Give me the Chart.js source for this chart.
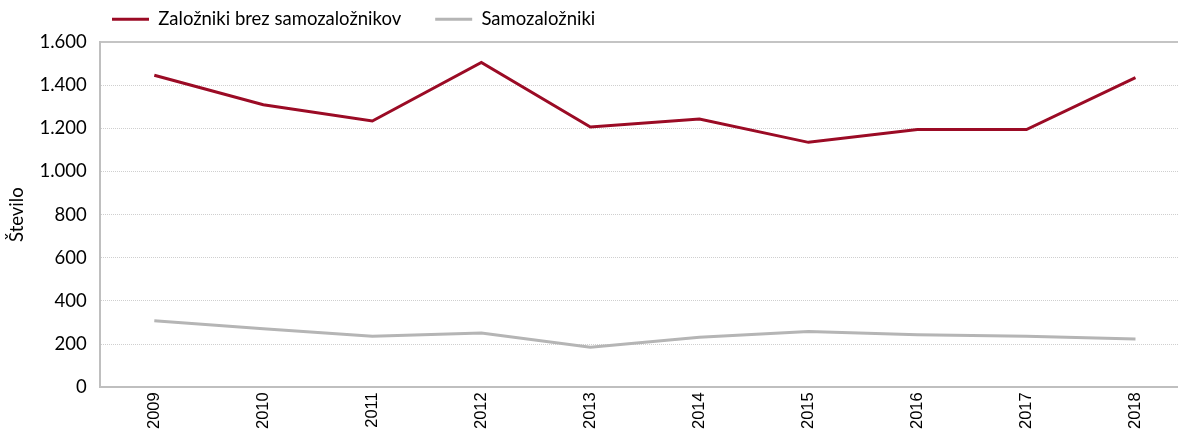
<!DOCTYPE html>
<html>
<head>
<meta charset="utf-8">
<script src="https://cdn.jsdelivr.net/npm/chart.js@4"></script>
<style>
  html, body { margin: 0; padding: 0; background: #fff; overflow: hidden; }
  #wrap { width: 1178px; height: 434px; overflow: hidden; }
</style>
</head>
<body>
<div id="wrap"><canvas id="publishersChart" width="1190" height="434"></canvas></div>
<script>
const years = ['2009', '2010', '2011', '2012', '2013', '2014', '2015', '2016', '2017', '2018'];
const publishers = [1446, 1309, 1234, 1505, 1206, 1243, 1135, 1195, 1194, 1435];
const selfPublishers = [308, 271, 237, 252, 186, 232, 258, 243, 237, 224];

const fmt = v => String(v).replace(/\B(?=(\d{3})+(?!\d))/g, '.');

// move legend up and to the left like in the original
const legendShift = {
    id: 'legendShift',
    afterLayout(chart) {
        chart.legend.left += 70;
        chart.legend.top -= 24;
    }
};

const ctx = document.getElementById('publishersChart').getContext('2d');
const chart = new Chart(ctx, {
    type: 'line',
    data: {
        labels: years,
        datasets: [{
            label: 'Založniki brez samozaložnikov',
            data: publishers,
            borderColor: '#9b0b25',
            backgroundColor: '#9b0b25',
            borderWidth: 3,
            pointRadius: 0,
            tension: 0
        }, {
            label: 'Samozaložniki',
            data: selfPublishers,
            borderColor: '#b5b5b5',
            backgroundColor: '#b5b5b5',
            borderWidth: 3,
            pointRadius: 0,
            tension: 0
        }]
    },
    options: {
        responsive: false,
        animation: false,
        layout: { padding: { left: 8, right: 0, top: 0, bottom: 0 } },
        plugins: {
            legend: {
                position: 'top',
                align: 'start',
                maxHeight: 42,
                labels: {
                    usePointStyle: true,
                    pointStyle: 'line',
                    pointStyleWidth: 37,
                    padding: 34,
                    color: '#000',
                    font: { family: 'Lato', size: 18.5 }
                }
            },
            tooltip: { enabled: false }
        },
        scales: {
            x: {
                offset: true,
                grid: { display: false, drawTicks: false },
                border: { color: '#bfbfbf', width: 2 },
                ticks: {
                    minRotation: 90,
                    maxRotation: 90,
                    padding: 5,
                    color: '#000',
                    font: { family: 'Liberation Sans', size: 16.5 }
                }
            },
            y: {
                min: 0,
                max: 1600,
                ticks: {
                    stepSize: 200,
                    padding: 13,
                    color: '#000',
                    font: { family: 'Lato', size: 18.5 },
                    callback: v => fmt(v)
                },
                grid: {
                    drawTicks: false,
                    color: c => c.tick.value === 0 ? 'rgba(0,0,0,0)' : (c.tick.value === 1600 ? '#c4c4c4' : '#cfcfcf'),
                    lineWidth: c => c.tick.value === 1600 ? 2 : 1
                },
                border: {
                    color: '#bfbfbf',
                    width: 2,
                    dash: c => c.tick && c.tick.value === 1600 ? [] : [1, 1]
                },
                title: {
                    display: true,
                    text: 'Število',
                    color: '#000',
                    padding: 0,
                    font: { family: 'Lato', size: 18.5, lineHeight: 1 }
                }
            }
        }
    },
    plugins: [legendShift]
});
</script>
</body>
</html>
